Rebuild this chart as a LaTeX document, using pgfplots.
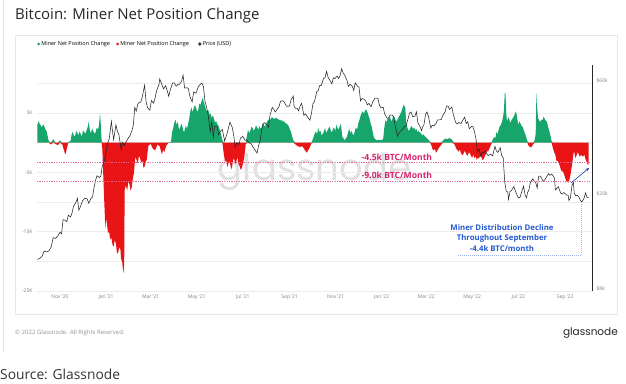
\documentclass[border=0pt]{standalone}
\usepackage{pgfplots}
\pgfplotsset{compat=1.18}
\usepackage{pgfplotstable}
\usetikzlibrary{arrows.meta}
\usepackage{fontspec}
\setmainfont{Open Sans}
\newfontfamily\poppins{Poppins}
\definecolor{gnGreen}{RGB}{22,165,106}
\definecolor{gnRed}{RGB}{232,20,22}
\definecolor{gnPink}{RGB}{214,36,110}
\definecolor{gnBlue}{RGB}{36,89,209}
\definecolor{gnDBlue}{RGB}{26,60,176}
\definecolor{gridc}{RGB}{236,236,236}

% Miner net position change (thousand BTC), x = days since 1 Nov 2020
\pgfplotstableread{
d v
-30 3.0
-28.5 3.6
-27 3.2
-25.5 2.9
-24 2.6
-22.5 3.1
-21 2.8
-19.5 2.3
-18 2.0
-15 0.3
-12 -0.3
-9 0.6
-6 -0.2
-3 -0.4
0 0.4
3 -0.3
5 -1.2
7 -2.0
9 -1.0
11 0.1
14 0.3
15.5 1.5
17 1.8
18.5 1.0
20 1.2
21.5 2.0
23 1.6
24.5 1.3
26 1.9
27.5 1.4
29 1.1
30.5 2.1
32 1.8
33.5 1.5
35 2.0
36.5 2.6
38 3.5
39.5 2.1
41 1.6
42.5 2.4
44 2.0
45.5 1.5
47 1.7
48.5 2.5
50 2.2
51.5 2.8
53 5.0
54 3.0
55 0.5
56 -1.0
58 -8.0
60 -14.5
61 -12.8
62 -13.5
63.5 -15.2
65 -15.0
66.5 -16.3
68 -16.0
69.5 -17.2
71 -17.5
72.5 -16.4
74 -17.0
75.5 -18.7
77 -18.5
78.5 -17.6
80 -18.0
81 -20.0
82 -19.5
83 -21.0
84 -22.0
85 -20.5
85.6 -8.0
87 -7.2
89 -8.0
90.5 -6.5
92 -7.0
93.5 -8.1
95 -7.5
96.5 -6.0
98 -5.0
99 -3.4
100 -2.4
101.5 -3.0
103 -3.5
104.5 -2.2
106 -2.6
107.5 -3.4
109 -3.0
110.5 -4.2
112 -4.0
113.5 -3.2
115 -2.8
116 -1.5
117 -0.5
120 -0.2
123 -1.0
126 -1.3
129 -0.3
132 -0.6
135 -2.0
136.5 -1.2
138 -1.6
141 -0.4
144 0.0
147 0.2
148.5 1.8
150 2.5
151.5 3.4
153 3.9
154.5 3.0
156 3.5
157.5 2.2
159 2.5
160.5 3.2
162 2.8
163.5 1.9
165 2.0
166.5 2.9
168 2.3
169.5 3.1
171 4.0
172.5 5.2
174 6.0
175.5 5.1
177 5.8
178.5 6.3
180 6.0
181.5 5.2
183 5.5
184.5 6.6
186 6.4
187.5 7.0
189 7.6
190.5 6.8
192 6.2
193.5 5.6
195 5.2
196.5 5.5
198 4.7
199.5 4.9
201 4.2
202.5 4.6
204 4.0
205.5 3.4
207 3.6
208.5 3.1
210 2.8
211.5 2.2
213 1.5
215 0.5
217 -2.0
218.5 -3.2
220 -2.9
221.5 -4.1
223 -3.5
224.5 -3.0
226 -4.0
227.5 -4.5
229 -3.0
230.5 -2.6
232 -3.6
233.5 -3.1
235 -2.5
236.5 -3.6
238 -4.0
239.5 -4.6
241 -4.2
242.5 -3.4
244 -2.5
246 -0.2
249 2.2
250.5 1.6
252 2.0
253.5 2.7
255 2.5
256.5 2.0
258 2.3
259.5 2.9
261 2.6
262.5 2.2
264 2.8
265.5 2.4
267 2.5
268.5 3.3
270 3.0
271.5 2.7
273 3.2
274.5 3.6
276 3.9
277.5 3.7
279 4.0
280.5 4.3
282 4.2
283.5 4.0
285 4.1
286.5 4.2
288 4.0
289.5 3.9
291 3.9
292.5 3.7
294 3.8
295.5 3.5
297 3.6
298.5 3.3
300 3.2
301.5 3.0
303 2.8
304.5 2.2
306 1.8
307.5 1.0
309 0.4
312 -0.3
315 -0.6
318 -0.7
321 -0.6
324 -1.2
327 -1.7
328.5 -1.3
330 -1.0
333 -0.1
336 1.0
337.5 1.6
339 1.9
340.5 1.4
342 2.5
343.5 1.8
345 2.0
346.5 1.2
348 1.5
349.5 1.9
351 2.5
352.5 1.6
354 2.0
355.5 2.4
357 2.7
358.5 2.1
360 1.7
361.5 2.3
363 2.6
364.5 1.9
366 3.0
367.5 2.5
369 2.2
370.5 2.8
372 3.2
373 2.0
374 1.0
377 0.4
380 1.0
381.5 1.7
383 2.4
384.5 1.6
386 2.0
387.5 1.5
389 1.2
390.5 2.0
392 2.6
393.5 2.2
395 3.2
396.5 3.8
398 4.5
399.5 5.0
401 5.3
402.5 4.9
404 5.4
405.5 5.6
407 5.2
408.5 4.6
410 4.0
411.5 3.2
413 2.6
414.5 1.5
416 0.8
419 0.4
422 0.5
425 0.4
428 0.6
429.5 2.5
431 3.8
432.5 3.4
434 4.2
435.5 4.0
437 4.5
438.5 3.6
440 3.9
441.5 4.6
443 4.3
444.5 3.8
446 3.6
447.5 4.1
449 4.4
450.5 4.8
452 5.2
453.5 5.8
455 6.4
456 6.0
457 6.3
458.5 3.5
460 2.6
461.5 2.0
463 2.2
464.5 2.6
466 2.8
467.5 2.3
469 2.6
470.5 2.1
472 2.3
473.5 1.8
475 2.0
476.5 1.7
478 1.6
479.5 1.2
481 1.4
484 1.0
487 0.6
490 0.2
492 -0.5
493.5 -1.1
495 -1.3
496.5 -1.0
498 -1.7
499.5 -1.4
501 -1.0
504 -0.5
507 0.3
510 0.7
513 0.6
516 0.8
519 0.5
522 -0.2
525 -1.0
526.5 -1.3
528 -1.5
529.5 -1.1
531 -1.7
532.5 -2.1
534 -2.0
535.5 -1.4
537 -1.6
538.5 -2.0
540 -2.2
541.5 -1.6
543 -1.8
544.5 -2.3
546 -2.5
547.5 -2.0
549 -2.6
550.5 -2.3
552 -2.9
553.5 -2.5
555 -2.7
556.5 -2.1
558 -2.4
559.5 -2.9
561 -2.8
562.5 -2.3
564 -1.9
565.5 -1.4
567 -1.5
570 -0.6
572 0.2
575 1.0
576.5 0.7
578 1.8
579.5 1.4
581 2.2
582.5 2.8
584 3.0
585.5 3.6
587 4.5
588 5.5
589 8.4
590 8.2
591 5.0
592 3.5
593.5 4.3
595 4.0
596.5 3.3
598 3.8
599.5 4.1
601 4.4
602.5 4.9
604 5.3
605.5 4.1
607 3.0
608.5 3.6
610 3.2
611.5 2.8
613 2.6
614.5 2.0
616 1.5
619 0.3
621 -0.6
624 -0.8
627 -0.2
629 0.6
630 1.5
631 8.4
632 6.0
633 4.2
634.5 3.8
636 3.5
637.5 3.9
639 3.8
640.5 4.4
642 4.0
643.5 3.7
645 3.5
646.5 2.6
648 2.0
649.5 1.2
651 0.3
653 -1.0
654.5 -1.6
656 -2.0
657.5 -3.1
659 -3.0
660.5 -3.4
662 -3.9
663.5 -4.6
665 -4.8
666.5 -4.9
668 -5.5
669.5 -6.1
671 -6.6
672 -6.4
673 -6.8
674.5 -6.3
676 -5.5
677.5 -4.2
679 -2.9
680 -1.8
681 -1.5
682.5 -2.6
684 -2.2
685.5 -1.6
687 -1.9
688.5 -2.4
690 -2.0
691.5 -2.3
693 -2.3
694.5 -2.0
696 -2.8
697.5 -3.2
699 -3.7
700 -3.7
}\netdata

% BTC price (USD)
\pgfplotstableread{
d p
-30 10600
-27 10700
-24 10900
-21 11500
-18 11400
-15 11500
-12 11900
-9 13100
-6 13000
-3 13300
0 13800
2 13600
4 15600
7 15500
9 15300
11 16300
14 16000
16 16700
18 17800
21 18400
23 19200
25 17100
27 17700
30 18800
33 19200
36 19100
38 18300
41 19200
43 19400
45 21300
47 22800
49 23900
52 23500
54 23800
56 26300
58 27000
60 29000
63 32800
65 34000
68 40500
69 38000
71 33900
73 37300
74 39200
76 36800
78 35600
81 30800
83 33100
85 32100
88 33400
90 34300
93 35500
95 36900
97 38900
99 46400
101 44800
103 48000
105 48700
107 48900
109 51600
112 57500
114 48900
116 46300
119 45200
121 49600
124 48400
126 51000
128 54800
131 57800
132 61200
134 59000
137 55600
140 57300
142 54500
144 51700
146 55000
149 58800
151 59000
154 57000
156 58000
158 58100
161 59800
163 63500
165 56000
168 56200
170 55700
172 51700
175 49000
177 54000
180 53300
183 56600
185 57800
188 58800
190 56700
192 49200
194 46800
196 43500
199 36700
201 40500
203 34700
205 38800
208 38400
210 35600
212 36700
215 37500
218 33500
221 35800
224 39000
225 40200
228 38300
230 35500
232 31600
234 33000
237 32300
239 34500
242 35000
245 33700
247 33900
250 32900
253 32700
255 31800
258 30800
261 29800
263 32100
265 33600
267 37300
269 39500
271 40000
274 39200
276 38200
278 42800
281 46400
283 45600
285 44400
288 45900
290 46700
292 49300
295 49500
297 48900
300 47000
302 46900
304 47100
306 50000
309 51800
310 46900
312 46000
314 46000
316 44900
318 47100
320 48300
323 43000
325 43600
328 42200
331 41000
333 43800
335 48100
337 49200
340 54000
342 54700
344 57500
346 57400
349 61600
351 62000
353 65900
355 62200
357 60700
360 58400
362 61900
364 61400
367 62900
369 61500
371 63300
373 67600
375 64800
377 63600
380 60400
382 56900
384 58100
387 57100
389 54700
391 58900
394 57000
396 56500
398 49400
400 50600
402 50400
405 49400
407 47600
409 48300
412 46700
414 48900
417 50800
419 50800
421 50700
423 47500
425 46300
428 46400
430 43600
433 41900
435 41800
437 43100
440 43100
442 42200
444 38700
447 35100
449 36300
452 37100
454 37600
456 38500
458 38700
461 41600
463 44000
465 44400
467 42400
470 42600
472 44500
474 40000
477 38400
479 37000
480 38300
482 39200
484 43200
486 44400
488 42500
491 38000
493 39000
495 38800
498 39700
500 41100
503 41100
505 41300
507 42900
510 44500
512 47100
514 47000
516 45500
519 46600
521 43200
524 40100
526 39500
528 40100
531 39700
533 40800
536 42200
538 39700
540 40400
542 37700
545 38600
547 38500
549 36600
551 34000
553 30100
555 31000
557 28900
559 30100
561 29800
563 30400
566 29300
568 29100
570 29500
573 29000
576 31800
578 30400
580 30000
583 31400
585 29100
587 28400
589 22500
591 20600
593 20400
594 19000
596 20500
598 20700
601 21500
603 20700
605 19900
607 19300
609 19300
611 20200
614 21600
616 19800
618 19300
619 20200
621 20800
623 22400
626 23200
628 22700
630 22400
632 21200
634 23800
636 23800
638 23300
640 22600
643 23200
645 23800
647 24400
649 24000
651 24300
653 23900
655 23300
656 20800
658 21100
660 21500
663 20200
665 20000
667 20300
669 20100
671 19800
673 19800
674 18800
676 19300
678 21700
680 22400
681 20200
683 19700
685 19800
687 19500
689 18900
691 18500
694 19200
696 20200
698 19400
700 19300
}\pricedata

\begin{document}
\begin{tikzpicture}[x=1pt,y=1pt]
\useasboundingbox (0,0) rectangle (626,-383);
% frames
\draw[gray!20, line width=0.6pt] (3,0) -- (3,-352);
\draw[gray!18, line width=0.6pt] (15,-35.5) rectangle (617,-314);
% title
\node[anchor=base west, inner sep=0pt, font=\fontsize{15}{18}\selectfont, text=black!85] at (15,-19.5) {Bitcoin: Miner Net Position Change};
% watermark
\node[anchor=base, inner sep=0pt, font=\fontsize{37}{40}\selectfont\poppins, text=gray!24] at (314.5,-180) {glassnode};

\begin{axis}[
  at={(37pt,-291pt)}, anchor=south west, scale only axis,
  width=555pt, height=226pt,
  xmin=-30.5, xmax=704.6, ymin=-25, ymax=13.1,
  axis line style={draw=none}, tick style={draw=none},
  xtick={0,61,120,181,242,304,365,426,485,546,607,669},
  xticklabels={Nov '20,Jan '21,Mar '21,May '21,Jul '21,Sep '21,Nov '21,Jan '22,Mar '22,May '22,Jul '22,Sep '22},
  ytick={-25,-15,-5,5}, yticklabels={-25K,-15K,-5K,5K},
  minor ytick={-20,-10,0,10},
  ymajorgrids, yminorgrids,
  major grid style={gridc, line width=0.6pt}, minor grid style={gridc, line width=0.6pt},
  ticklabel style={font=\fontsize{5}{6}\selectfont, text=gray},
  yticklabel style={xshift=-1pt},
  legend style={at={(0.0,1.093)}, anchor=west, draw=none, fill=none,
    font=\fontsize{5.5}{6.5}\selectfont, legend columns=-1,
    inner sep=0pt, nodes={inner sep=1.2pt}},
]
\addplot[fill=gnGreen, draw=none,
  legend image code/.code={\fill[gnGreen] (1.5pt,0pt) circle (1.5pt);}]
  table[x=d, y expr={max(\thisrow{v},0)}] {\netdata} \closedcycle;
\addlegendentry{Miner Net Position Change\rule{5pt}{0pt}}
\addplot[fill=gnRed, draw=none,
  legend image code/.code={\fill[gnRed] (1.5pt,0pt) circle (1.5pt);}]
  table[x=d, y expr={min(\thisrow{v},0)}] {\netdata} \closedcycle;
\addlegendentry{Miner Net Position Change\rule{8pt}{0pt}}
\addlegendimage{legend image code/.code={\fill[black!80] (1.5pt,0pt) circle (1.5pt);}}
\addlegendentry{Price (USD)}
\end{axis}

\begin{axis}[
  at={(37pt,-291pt)}, anchor=south west, scale only axis,
  width=555pt, height=226pt,
  xmin=-30.5, xmax=704.6, ymode=log, ymin=7800, ymax=70100,
  axis x line=none, axis y line*=right,
  y axis line style={black!85, line width=0.8pt, -},
  tick style={draw=none},
  ytick={8000,20000,60000}, yticklabels={\$8k,\$20k,\$60k},
  yticklabel style={font=\fontsize{5}{6}\selectfont, text=gray, xshift=1pt},
]
\addplot[black!85, line width=0.55pt] table[x=d, y=p] {\pricedata};
\end{axis}

% annotations
\draw[gnPink!70, dash pattern=on 1.2pt off 1.2pt, line width=0.6pt] (37,-162.7) -- (590,-162.7);
\draw[gnPink!70, dash pattern=on 1.2pt off 1.2pt, line width=0.6pt] (37,-181.7) -- (590,-181.7);
\node[anchor=west, inner sep=0pt, font=\fontsize{8.6}{10}\selectfont\bfseries, text=gnPink] at (361.5,-157.3) {-4.5k BTC/Month};
\node[anchor=west, inner sep=0pt, font=\fontsize{8.6}{10}\selectfont\bfseries, text=gnPink] at (361.5,-175.7) {-9.0k BTC/Month};
\node[align=center, inner sep=0pt, font=\fontsize{7.8}{10.8}\selectfont\bfseries, text=gnBlue] at (502,-238) {Miner Distribution Decline\\Throughout September\\-4.4k BTC/month};
\draw[gnBlue!45, dash pattern=on 1pt off 1pt, line width=0.5pt] (458,-255) -- (581.7,-255) -- (581.7,-201.7);
\draw[gnDBlue, line width=0.6pt, -{Stealth[length=3.5pt,width=3pt]}] (571,-183) -- (589,-168);

% footer
\node[anchor=base west, inner sep=0pt, font=\fontsize{6}{7}\selectfont, text=gray!85] at (15,-334) {\textcopyright{} 2022 Glassnode. All Rights Reserved.};
\node[anchor=base east, inner sep=0pt, font=\fontsize{10.5}{12}\selectfont\poppins, text=black!85] at (618,-335) {glassnode};
\node[anchor=base west, inner sep=0pt, font=\fontsize{13.8}{16}\selectfont, text=black!80] at (0,-379.5) {Source: Glassnode};
\end{tikzpicture}
\end{document}
